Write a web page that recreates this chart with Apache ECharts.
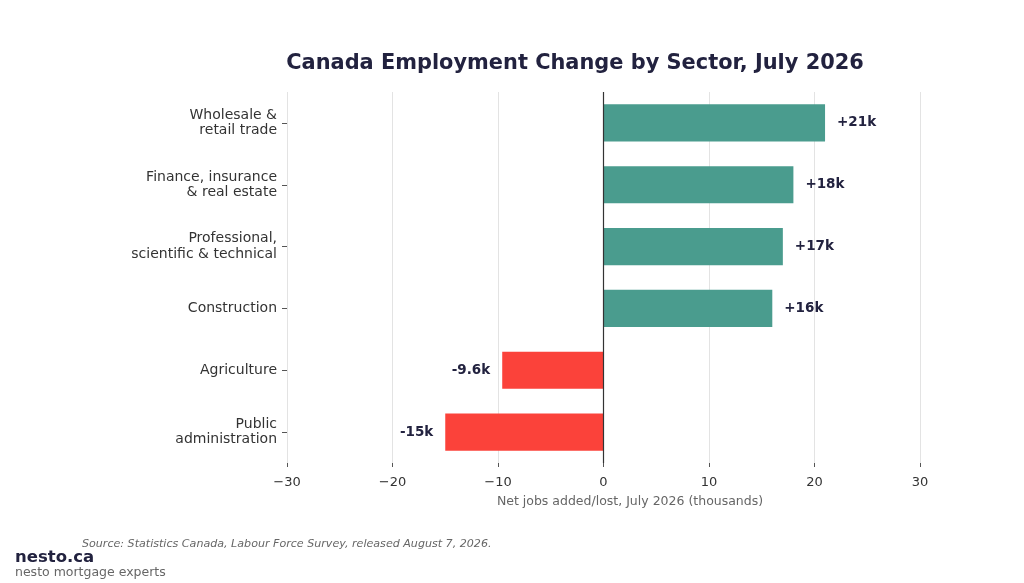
<!DOCTYPE html>
<html>
<head>
<meta charset="utf-8">
<script src="https://cdn.jsdelivr.net/npm/echarts@6/dist/echarts.min.js"></script>
<style>
  html, body { margin: 0; padding: 0; background: #fff; }
  #chart { width: 1024px; height: 583px; }
</style>
</head>
<body>
<div id="chart"></div>
<script>
const sectors = [
  'Wholesale &\nretail trade',
  'Finance, insurance\n& real estate',
  'Professional,\nscientific & technical',
  'Construction',
  'Agriculture',
  'Public\nadministration'
];
const change = [21, 18, 17, 16, -9.6, -15];
const changeLabels = ['+21k', '+18k', '+17k', '+16k', '-9.6k', '-15k'];
const xTicks = [-30, -20, -10, 0, 10, 20, 30];

const navy = '#22223f';
const font = 'DejaVu Sans';

const chart = echarts.init(document.getElementById('chart'), null, { renderer: 'canvas' });

chart.setOption({
  backgroundColor: '#fff',
  animation: false,
  title: {
    text: 'Canada Employment Change by Sector, July 2026',
    left: 570,
    top: 48,
    textAlign: 'center',
    textStyle: { fontFamily: font, fontSize: 20.9, fontWeight: 'bold', color: navy }
  },
  grid: { left: 287, right: 104, top: 92, bottom: 120, containLabel: false },
  xAxis: {
    type: 'value',
    min: xTicks[0],
    max: xTicks[xTicks.length - 1],
    interval: 10,
    axisLine: { show: false },
    axisTick: { show: true, length: 4, lineStyle: { color: '#555' } },
    axisLabel: {
      fontFamily: font, fontSize: 13, color: '#333', margin: 13,
      formatter: v => String(v).replace('-', '\u2212')
    },
    splitLine: { show: true, lineStyle: { color: '#e3e3e3', width: 1 } }
  },
  yAxis: {
    type: 'category',
    data: sectors,
    inverse: true,
    axisLine: { show: false, onZero: false },
    axisTick: { show: true, length: 5, alignWithLabel: true, lineStyle: { color: '#555' } },
    axisLabel: {
      fontFamily: font, fontSize: 14, color: '#333', margin: 10,
      align: 'right', lineHeight: 15.5, padding: [4, 0, 0, 0]
    },
    splitLine: { show: false }
  },
  graphic: [
    {
      type: 'text', x: 630, y: 495,
      style: {
        text: 'Net jobs added/lost, July 2026 (thousands)',
        fontFamily: font, fontSize: 12.5, fill: '#666', align: 'center'
      }
    },
    {
      type: 'text', left: 82, top: 539,
      style: {
        text: 'Source: Statistics Canada, Labour Force Survey, released August 7, 2026.',
        fontFamily: font, fontSize: 11.1, fontStyle: 'italic', fill: '#666'
      }
    },
    {
      type: 'text', left: 15, top: 549,
      style: { text: 'nesto.ca', fontFamily: font, fontSize: 16.5, fontWeight: 'bold', fill: navy }
    },
    {
      type: 'text', left: 15, top: 566,
      style: { text: 'nesto mortgage experts', fontFamily: font, fontSize: 12.5, fill: '#666' }
    }
  ],
  series: [{
    type: 'bar',
    barWidth: '60%',
    data: change.map((v, i) => ({
      value: v,
      itemStyle: { color: v >= 0 ? '#4a9c8e' : '#fb423a' },
      label: { position: v >= 0 ? 'right' : 'left' }
    })),
    label: {
      show: true,
      distance: 12,
      fontFamily: font, fontSize: 13.5, fontWeight: 'bold', color: navy,
      formatter: p => changeLabels[p.dataIndex]
    },
    markLine: {
      symbol: 'none',
      silent: true,
      label: { show: false },
      lineStyle: { color: '#333', width: 1.2, type: 'solid' },
      data: [{ xAxis: 0 }]
    }
  }]
});
</script>
</body>
</html>
